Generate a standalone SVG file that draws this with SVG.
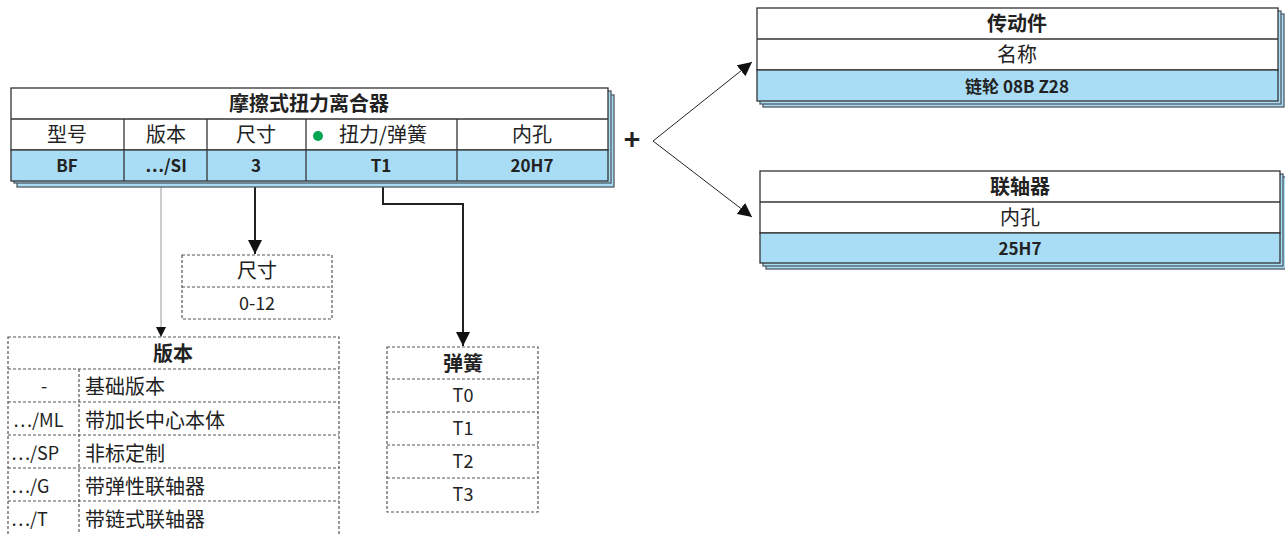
<svg xmlns="http://www.w3.org/2000/svg" width="1285" height="534" viewBox="0 0 1285 534">
<style>
text{font-family:"Noto Sans CJK SC","Noto Sans",sans-serif;fill:#222;text-anchor:middle}
.sh{fill:#a9dcf5;stroke:#4f5b63;stroke-width:1.3}
.bx{fill:#fff;stroke:#333;stroke-width:1.3}
.bl{fill:#a9dcf5;stroke:#333;stroke-width:1.3}
.ln{stroke:#333;stroke-width:1.3;fill:none}
.ds{fill:#fff;stroke:#555;stroke-width:1.2;stroke-dasharray:3 2}
.dl{stroke:#555;stroke-width:1.2;stroke-dasharray:3 2;fill:none}
.t{font-size:20px;font-weight:700}
.h{font-size:20px}
.d{font-size:17px;font-weight:700}
.r{font-size:18px}
.s{text-anchor:start}
</style>
<defs>
<marker id="ah" viewBox="0 0 10 10" refX="10" refY="5" markerWidth="14" markerHeight="14" markerUnits="userSpaceOnUse" orient="auto"><path d="M0,0L10,5L0,10z" fill="#111"/></marker>
<marker id="ahs" viewBox="0 0 10 10" refX="10" refY="5" markerWidth="10" markerHeight="10" markerUnits="userSpaceOnUse" orient="auto"><path d="M0,0L10,5L0,10z" fill="#111"/></marker>
</defs>

<g id="connectors">
<line x1="161" y1="181" x2="161" y2="337" stroke="#999" stroke-width="1" marker-end="url(#ahs)"/>
<line x1="255" y1="183" x2="255" y2="254" stroke="#222" stroke-width="2" marker-end="url(#ah)"/>
<polyline points="383,183 383,204 463,204 463,346" fill="none" stroke="#222" stroke-width="2" marker-end="url(#ah)"/>
<line x1="653" y1="141" x2="752" y2="62" stroke="#222" stroke-width="1" marker-end="url(#ah)"/>
<line x1="653" y1="141" x2="752" y2="217" stroke="#222" stroke-width="1" marker-end="url(#ah)"/>
<text x="632" y="150" style="font-size:28px;font-weight:700">+</text>
</g>

<g id="clutch">
<rect class="sh" x="17" y="95" width="597" height="92"/>
<rect class="sh" x="14" y="91" width="597" height="92"/>
<rect class="bx" x="11" y="88" width="597" height="62"/>
<rect class="bl" x="11" y="150" width="597" height="31"/>
<line class="ln" x1="11" y1="119" x2="608" y2="119"/>
<line class="ln" x1="124" y1="119" x2="124" y2="181"/>
<line class="ln" x1="207" y1="119" x2="207" y2="181"/>
<line class="ln" x1="306" y1="119" x2="306" y2="181"/>
<line class="ln" x1="457" y1="119" x2="457" y2="181"/>
<text class="t" x="309" y="111">摩擦式扭力离合器</text>
<text class="h" x="67" y="142">型号</text>
<text class="h" x="166" y="142">版本</text>
<text class="h" x="256" y="142">尺寸</text>
<circle cx="318" cy="136" r="5" fill="#00a651"/>
<text class="h" x="383" y="142">扭力/弹簧</text>
<text class="h" x="532" y="142">内孔</text>
<text class="d" x="67" y="172">BF</text>
<text class="d" x="166" y="172">…/SI</text>
<text class="d" x="256" y="172">3</text>
<text class="d" x="381" y="172">T1</text>
<text class="d" x="532" y="172">20H7</text>
</g>

<g id="transmission">
<rect class="sh" x="763" y="14" width="521" height="93"/>
<rect class="sh" x="760" y="11" width="521" height="93"/>
<rect class="bx" x="757" y="8" width="521" height="62"/>
<rect class="bl" x="757" y="70" width="521" height="31"/>
<line class="ln" x1="757" y1="39" x2="1278" y2="39"/>
<text class="t" x="1017" y="31">传动件</text>
<text class="h" x="1017" y="62">名称</text>
<text class="d" x="1017" y="93">链轮 08B Z28</text>
</g>

<g id="coupling">
<rect class="sh" x="766" y="177" width="520" height="92"/>
<rect class="sh" x="763" y="174" width="520" height="92"/>
<rect class="bx" x="760" y="171" width="520" height="62"/>
<rect class="bl" x="760" y="233" width="520" height="30"/>
<line class="ln" x1="760" y1="202" x2="1280" y2="202"/>
<text class="t" x="1020" y="194">联轴器</text>
<text class="h" x="1020" y="225">内孔</text>
<text class="d" x="1020" y="255">25H7</text>
</g>

<g id="size-table">
<rect class="ds" x="182" y="255" width="150" height="64"/>
<line class="dl" x1="182" y1="287" x2="332" y2="287"/>
<text class="h" x="257" y="278">尺寸</text>
<text class="r" x="257" y="310">0-12</text>
</g>

<g id="version-table">
<rect class="ds" x="8" y="337" width="331" height="200"/>
<line class="dl" x1="8" y1="369" x2="339" y2="369"/>
<line class="dl" x1="8" y1="402" x2="339" y2="402"/>
<line class="dl" x1="8" y1="435" x2="339" y2="435"/>
<line class="dl" x1="8" y1="468" x2="339" y2="468"/>
<line class="dl" x1="8" y1="501" x2="339" y2="501"/>
<line class="dl" x1="79" y1="369" x2="79" y2="534"/>
<text class="t" x="173" y="361">版本</text>
<text class="r" x="44" y="393">-</text>
<text class="h s" x="85" y="394">基础版本</text>
<text class="r s" x="13" y="427">…/ML</text>
<text class="h s" x="85" y="428">带加长中心本体</text>
<text class="r s" x="11" y="460">…/SP</text>
<text class="h s" x="85" y="461">非标定制</text>
<text class="r s" x="11" y="493">…/G</text>
<text class="h s" x="85" y="494">带弹性联轴器</text>
<text class="r s" x="11" y="526">…/T</text>
<text class="h s" x="85" y="527">带链式联轴器</text>
</g>

<g id="spring-table">
<rect class="ds" x="387" y="347" width="151" height="165"/>
<line class="dl" x1="387" y1="379" x2="538" y2="379"/>
<line class="dl" x1="387" y1="412" x2="538" y2="412"/>
<line class="dl" x1="387" y1="445" x2="538" y2="445"/>
<line class="dl" x1="387" y1="478" x2="538" y2="478"/>
<text class="t" x="463" y="371">弹簧</text>
<text class="r" x="463" y="402">T0</text>
<text class="r" x="463" y="435">T1</text>
<text class="r" x="463" y="468">T2</text>
<text class="r" x="463" y="501">T3</text>
</g>
</svg>
